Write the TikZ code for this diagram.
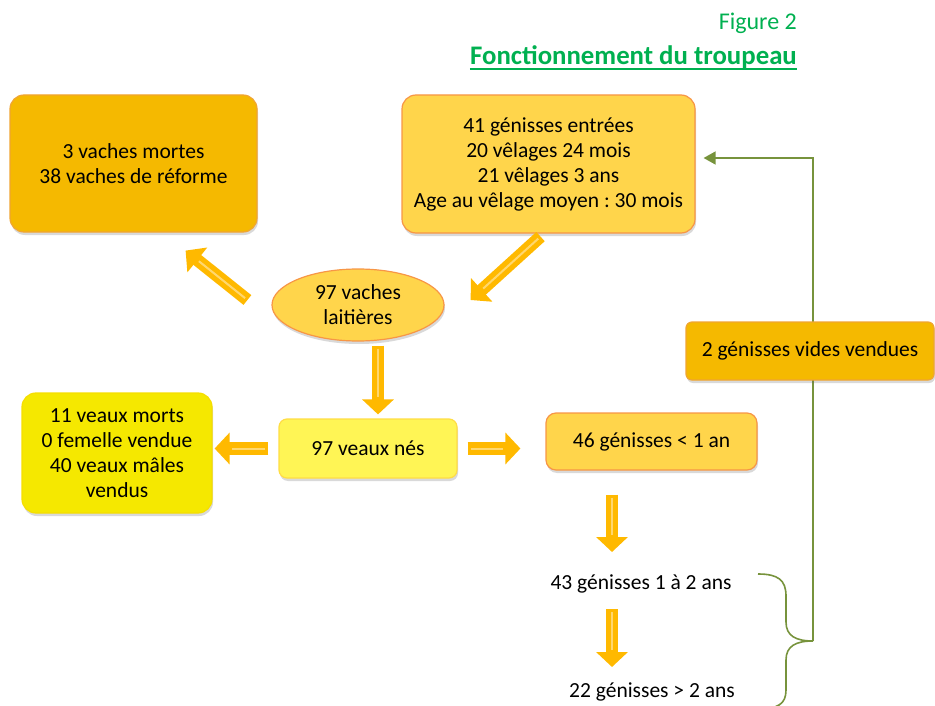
\documentclass[tikz,border=0pt]{standalone}
\usepackage{fontspec}
\setmainfont{Carlito}
\frenchspacing
\usetikzlibrary{arrows.meta,shadows,shapes.geometric}
\definecolor{gold}{RGB}{245,185,0}
\definecolor{goldb}{RGB}{240,165,50}
\definecolor{lightgold}{RGB}{255,213,75}
\definecolor{orangeb}{RGB}{247,150,70}
\definecolor{paleyellow}{RGB}{255,245,85}
\definecolor{yellowbox}{RGB}{245,232,0}
\definecolor{arrowc}{RGB}{255,185,0}
\definecolor{arrowin}{RGB}{255,215,110}
\definecolor{titlegreen}{RGB}{0,176,80}
\definecolor{olivec}{RGB}{119,147,60}
\begin{document}
\begin{tikzpicture}[x=1pt,y=-1pt,
  every node/.style={font=\fontsize{21.5}{25}\selectfont, align=center, inner sep=0pt},
  boxsh/.style={drop shadow={shadow xshift=1pt, shadow yshift=-3pt, opacity=0.25, fill=black!60}},
  box/.style={boxsh, rounded corners=#1, line width=1.2pt},
  barrow/.style={draw=arrowc, line width=12.5pt, -{Triangle[width=31pt,length=15pt]},
     postaction={draw=arrowin, line width=2pt, -, shorten >=17pt, shorten <=3pt}},
  greenline/.style={draw=olivec, line width=1.6pt}
]
\useasboundingbox (0,0) rectangle (935,706);

% title
\node[anchor=base east, text=titlegreen, font=\fontsize{24}{28}\selectfont] (fig) at (797,30) {Figure 2};
\node[anchor=base east, text=titlegreen, font=\fontsize{26.8}{30}\selectfont\bfseries] (title) at (797,65) {Fonctionnement du troupeau};
\draw[titlegreen, line width=1.6pt] ([yshift=-4pt]title.base west) -- ([yshift=-4pt]title.base east);

% green connector (behind boxes)
\coordinate (bt) at (813,641);
\draw[greenline] (758,574) .. controls (778,574) and (786,580) .. (786,596) -- (786,622)
   .. controls (786,636) and (796,641) .. (bt)
   .. controls (796,641) and (786,646) .. (786,660) -- (786,690)
   .. controls (786,704) and (778,709) .. (758,709);

% boxes
\node[box=14pt, fill=gold, draw=goldb, minimum width=247pt, minimum height=137pt] (b1) at (133.5,163.5)
  {3 vaches mortes\\38 vaches de réforme};
\node[box=14pt, fill=lightgold, draw=orangeb, minimum width=293pt, minimum height=138pt] (b2) at (548.5,164)
  {41 génisses entrées\\20 vêlages 24 mois\\21 vêlages 3 ans\\Age au vêlage moyen : 30 mois};
\draw[greenline, -{Triangle[width=13pt,length=12pt]}] (bt) |- ([xshift=8pt,yshift=6pt]b2.east);

\node[boxsh, ellipse, fill=lightgold, draw=orangeb, line width=1.2pt, minimum width=172pt, minimum height=72pt] (ell) at (358,305)
  {97 vaches\\laitières};
\node[box=8pt, fill=paleyellow, draw=paleyellow!80!orange, minimum width=178pt, minimum height=59pt] (veaux) at (368,448.5)
  {97 veaux nés};
\node[box=14pt, fill=yellowbox, draw=yellowbox!90!orange, minimum width=190pt, minimum height=120pt] (morts) at (117,453)
  {11 veaux morts\\0 femelle vendue\\40 veaux mâles\\vendus};
\node[box=10pt, fill=lightgold, draw=orangeb, minimum width=211pt, minimum height=57pt] (g1) at (651.5,441.5)
  {46 génisses < 1 an};
\node[box=6pt, fill=gold, draw=goldb, minimum width=248pt, minimum height=58pt] (vides) at (810,351)
  {2 génisses vides vendues};
\node (g12) at (641,584) {43 génisses 1 à 2 ans};
\node (g22) at (652,692) {22 génisses > 2 ans};

% block arrows
\draw[barrow] ([xshift=-24pt,yshift=5pt]ell.west) -- ([xshift=-72pt,yshift=-18pt]b1.south east);
\draw[barrow] ([xshift=-8pt,yshift=-3pt]b2.south) -- ([xshift=26pt,yshift=5pt]ell.east);
\draw[barrow] ([xshift=20pt,yshift=-4pt]ell.south) -- ([xshift=10pt,yshift=4pt]veaux.north);
\draw[barrow] ([xshift=-10pt]veaux.west) -- ([xshift=2pt,yshift=4.5pt]morts.east);
\draw[barrow] ([xshift=10pt]veaux.east) -- ([xshift=-25pt,yshift=-7pt]g1.west);
\draw[barrow] ([xshift=-39.5pt,yshift=-24pt]g1.south) -- ([xshift=-29pt,yshift=32pt]g12.center);
\draw[barrow] ([xshift=-29pt,yshift=-25pt]g12.center) -- ([xshift=-40pt,yshift=25pt]g22.center);
\end{tikzpicture}
\end{document}
